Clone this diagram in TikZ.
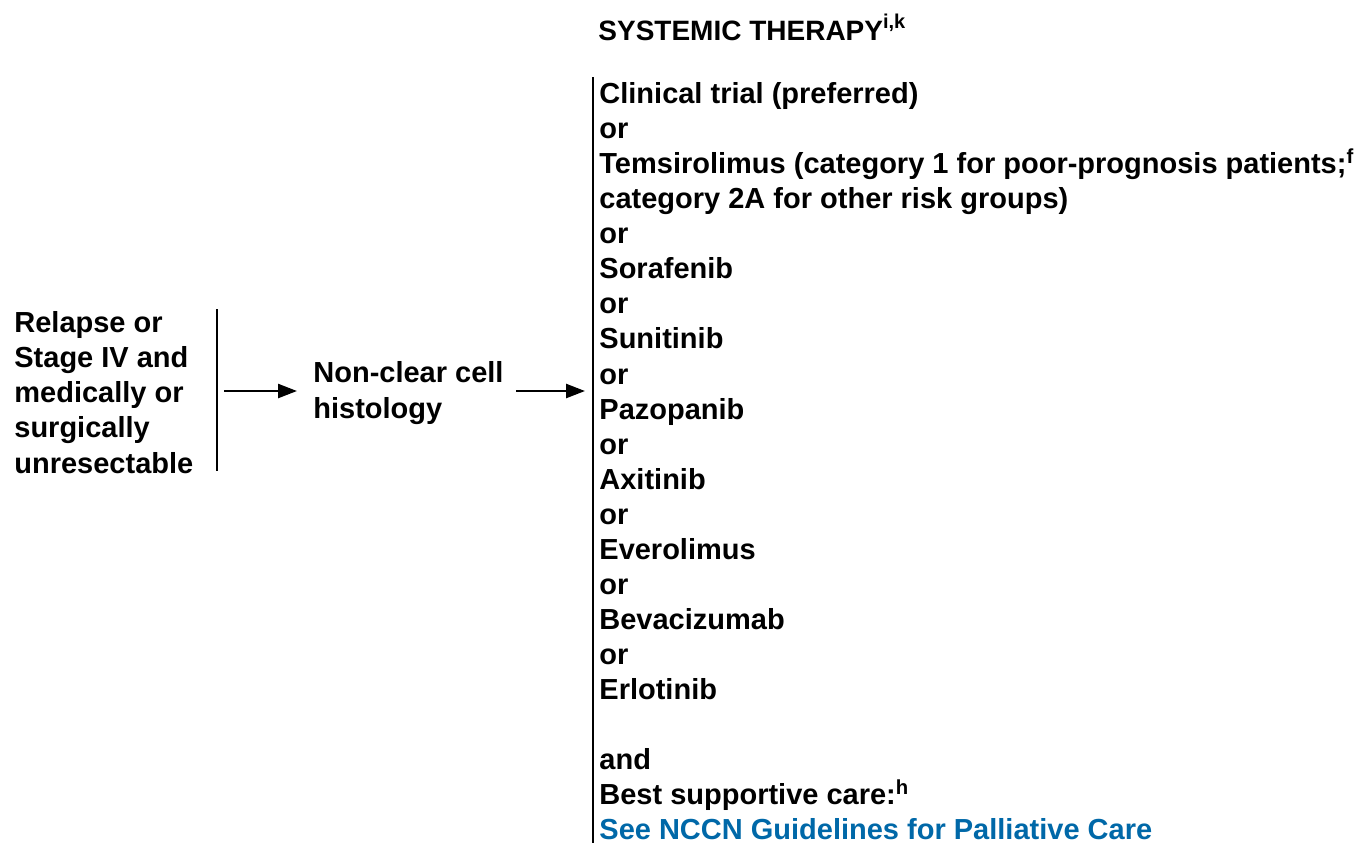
\documentclass[tikz,border=0pt]{standalone}
\usepackage{fontspec}
\setmainfont{Liberation Sans}
\usetikzlibrary{arrows.meta}
\definecolor{nccnblue}{RGB}{0,104,168}
\newcommand{\sups}[1]{\textsuperscript{#1}}
\newcommand{\titlesup}[1]{\raisebox{0.42em}{\fontsize{10}{12}\selectfont #1}}
\begin{document}
\begin{tikzpicture}[x=0.5pt,y=-0.5pt,
  txt/.style={font=\bfseries\fontsize{14.5}{17.52}\selectfont, inner sep=0pt, align=left},
  titletxt/.style={font=\bfseries\fontsize{14}{16.8}\selectfont, inner sep=0pt},
  bar/.style={line width=1.2pt},
  arr/.style={line width=1.25pt, -{Triangle[length=9.5pt,width=7pt]}}]
\useasboundingbox (0,0) rectangle (1365,843);

% title
\node[titletxt, anchor=base west] (title) at (598,40) {SYSTEMIC THERAPY\titlesup{i,k}};

% left block (anchored at the baseline of its last line)
\node[txt, anchor=base west] (relapse) at (14,473) {Relapse or\\Stage IV and\\medically or\\surgically\\unresectable};

% middle block
\node[txt, anchor=base west] (noncl) at (313,418) {Non-clear cell\\histology};

% right block
\node[txt, anchor=base west] (therapy) at (599,839.5) {Clinical trial (preferred)\\
or\\
Temsirolimus (category 1 for poor-prognosis patients;\sups{f}\\
category 2A for other risk groups)\\
or\\
Sorafenib\\
or\\
Sunitinib\\
or\\
Pazopanib\\
or\\
Axitinib\\
or\\
Everolimus\\
or\\
Bevacizumab\\
or\\
Erlotinib\\[17.52pt]
and\\
Best supportive care:\sups{h}\\
\textcolor{nccnblue}{See NCCN Guidelines for Palliative Care}};

% bars
\coordinate (b1top) at (217,309);
\coordinate (b1bot) at (217,471);
\coordinate (b2top) at (593,77);
\coordinate (b2bot) at (593,843);
\draw[bar] (b1top) -- (b1bot);
\draw[bar] (b2top) -- (b2bot);

% arrows
\coordinate (a1) at (224,391);
\coordinate (a2) at (516,391);
\draw[arr] (a1) -- ([xshift=-8pt]a1 -| noncl.west);
\draw[arr] (a2) -- ([xshift=-4pt]a2 -| b2top);
\end{tikzpicture}
\end{document}
